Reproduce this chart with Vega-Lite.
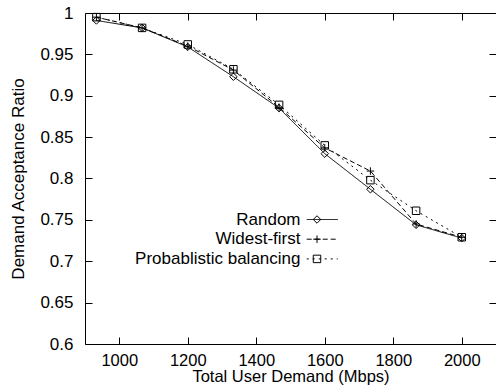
{
  "$schema": "https://vega.github.io/schema/vega-lite/v6.json",
  "width": 411,
  "height": 331,
  "autosize": {"type": "none"},
  "padding": {"left": 85, "top": 13, "right": 0, "bottom": 45},
  "background": "white",
  "config": {
    "font": "Liberation Sans",
    "view": {"stroke": "black", "strokeWidth": 1},
    "axis": {
      "domain": false,
      "grid": false,
      "tickColor": "black",
      "tickWidth": 1,
      "tickSize": -7,
      "labelFont": "Liberation Sans",
      "labelFontSize": 17,
      "labelColor": "black",
      "titleFont": "Liberation Sans",
      "titleFontSize": 17,
      "titleFontWeight": "normal",
      "titleColor": "black"
    },
    "legend": {
      "labelFont": "Liberation Sans",
      "labelFontSize": 17,
      "labelColor": "black",
      "labelLimit": 400,
      "padding": 0,
      "rowPadding": 1.7
    }
  },
  "data": {
    "values": [
      {"demand": 933.3, "ratio": 0.991, "series": "Random"},
      {"demand": 1066.7, "ratio": 0.982, "series": "Random"},
      {"demand": 1200, "ratio": 0.959, "series": "Random"},
      {"demand": 1333.3, "ratio": 0.923, "series": "Random"},
      {"demand": 1466.7, "ratio": 0.885, "series": "Random"},
      {"demand": 1600, "ratio": 0.83, "series": "Random"},
      {"demand": 1733.3, "ratio": 0.787, "series": "Random"},
      {"demand": 1866.7, "ratio": 0.744, "series": "Random"},
      {"demand": 2000, "ratio": 0.728, "series": "Random"},
      {"demand": 933.3, "ratio": 0.995, "series": "Widest-first"},
      {"demand": 1066.7, "ratio": 0.982, "series": "Widest-first"},
      {"demand": 1200, "ratio": 0.96, "series": "Widest-first"},
      {"demand": 1333.3, "ratio": 0.931, "series": "Widest-first"},
      {"demand": 1466.7, "ratio": 0.886, "series": "Widest-first"},
      {"demand": 1600, "ratio": 0.837, "series": "Widest-first"},
      {"demand": 1733.3, "ratio": 0.809, "series": "Widest-first"},
      {"demand": 1866.7, "ratio": 0.745, "series": "Widest-first"},
      {"demand": 2000, "ratio": 0.729, "series": "Widest-first"},
      {"demand": 933.3, "ratio": 0.995, "series": "Probablistic balancing"},
      {"demand": 1066.7, "ratio": 0.982, "series": "Probablistic balancing"},
      {"demand": 1200, "ratio": 0.962, "series": "Probablistic balancing"},
      {"demand": 1333.3, "ratio": 0.932, "series": "Probablistic balancing"},
      {"demand": 1466.7, "ratio": 0.889, "series": "Probablistic balancing"},
      {"demand": 1600, "ratio": 0.84, "series": "Probablistic balancing"},
      {"demand": 1733.3, "ratio": 0.798, "series": "Probablistic balancing"},
      {"demand": 1866.7, "ratio": 0.761, "series": "Probablistic balancing"},
      {"demand": 2000, "ratio": 0.729, "series": "Probablistic balancing"}
    ]
  },
  "layer": [
    {
      "mark": {"type": "line", "color": "black", "strokeWidth": 1},
      "encoding": {
        "x": {
          "field": "demand", "type": "quantitative",
          "scale": {"domain": [900, 2100], "nice": false, "zero": false},
          "axis": {"orient": "bottom", "values": [1000, 1200, 1400, 1600, 1800, 2000], "format": "d", "labelFontSize": 16.5, "labelPadding": 15, "title": "Total User Demand (Mbps)", "titleFontSize": 16.5, "titlePadding": 0}
        },
        "y": {
          "field": "ratio", "type": "quantitative",
          "scale": {"domain": [0.6, 1.0], "nice": false, "zero": false},
          "axis": {"orient": "left", "values": [0.6, 0.65, 0.7, 0.75, 0.8, 0.85, 0.9, 0.95, 1.0], "format": "~g", "labelPadding": 19, "title": "Demand Acceptance Ratio", "titlePadding": 12}
        },
        "strokeDash": {
          "field": "series", "type": "nominal",
          "scale": {"domain": ["Random", "Widest-first", "Probablistic balancing"], "range": [[1, 0], [5, 3], [2, 4]]},
          "legend": {
            "title": null,
            "orient": "none",
            "legendX": 223.5,
            "legendY": 198,
            "symbolType": "M-2.75,0H5.53",
            "symbolSize": 56,
            "symbolStrokeWidth": 1,
            "symbolStrokeColor": "black",
            "labelAlign": "right",
            "labelOffset": -25
          }
        }
      }
    },
    {
      "mark": {"type": "point", "filled": false, "stroke": "black", "strokeWidth": 1, "size": 56, "opacity": 1},
      "encoding": {
        "x": {
          "field": "demand", "type": "quantitative",
          "axis": {"orient": "top", "values": [1000, 1200, 1400, 1600, 1800, 2000], "labels": false, "title": null}
        },
        "y": {
          "field": "ratio", "type": "quantitative",
          "axis": {"orient": "right", "values": [0.6, 0.65, 0.7, 0.75, 0.8, 0.85, 0.9, 0.95, 1.0], "labels": false, "title": null}
        },
        "shape": {
          "field": "series", "type": "nominal",
          "sort": ["Random", "Widest-first", "Probablistic balancing"],
          "scale": {"range": ["M0,-1L1,0L0,1L-1,0Z", "M-1,0H1M0,-1V1", "M-1,-1H1V1H-1Z"]},
          "legend": {
            "title": null,
            "orient": "none",
            "legendX": 223.5,
            "legendY": 198,
            "symbolSize": 56,
            "symbolStrokeWidth": 1,
            "symbolStrokeColor": "black",
            "symbolFillColor": "transparent",
            "labelAlign": "right",
            "labelOffset": -25,
            "labelOpacity": 0
          }
        }
      }
    }
  ],
  "resolve": {"axis": {"x": "independent", "y": "independent"}}
}
